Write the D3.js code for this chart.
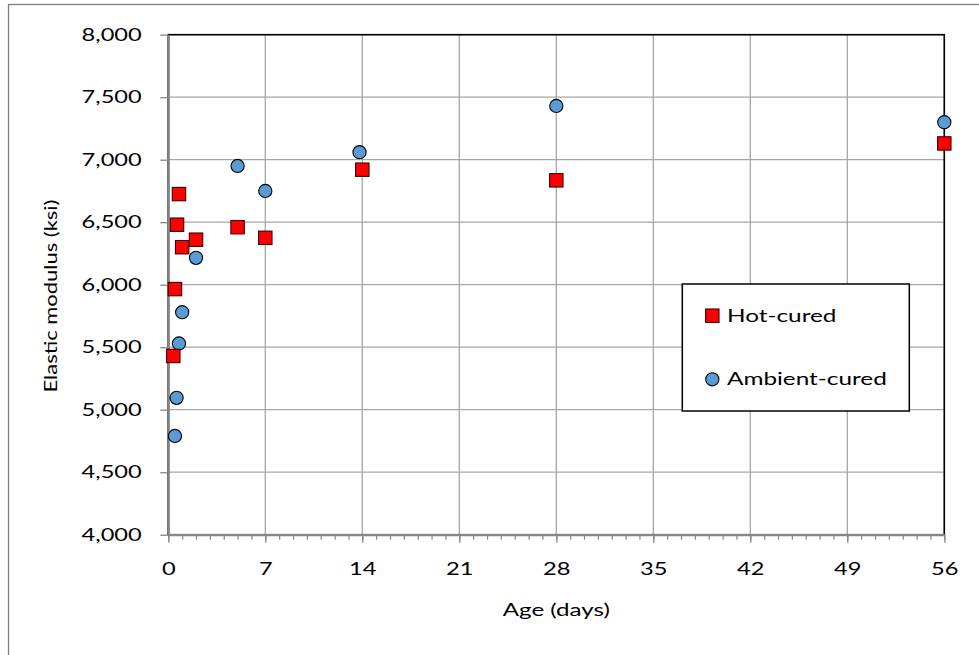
<!DOCTYPE html>
<html>
<head>
<meta charset="utf-8">
<script src="https://cdn.jsdelivr.net/npm/d3@7"></script>
<style>
body { margin: 0; background: #fff; }
text { font-family: Lato, "Open Sans", sans-serif; fill: #000; }
</style>
</head>
<body>
<div id="chart"></div>
<script>
// data
var hotAge = [0.36, 0.48, 0.63, 0.77, 1, 2, 5, 7, 14, 28, 56];
var hotModulus = [5430, 5965, 6480, 6725, 6300, 6360, 6460, 6375, 6920, 6835, 7130];
var ambientAge = [0.48, 0.6, 0.77, 1, 2, 5, 7, 13.8, 28, 56];
var ambientModulus = [4790, 5095, 5530, 5780, 6215, 6950, 6750, 7060, 7430, 7300];
var xTicks = [0, 7, 14, 21, 28, 35, 42, 49, 56];
var yTicks = [4000, 4500, 5000, 5500, 6000, 6500, 7000, 7500, 8000];
var seriesNames = ["Hot-cured", "Ambient-cured"];

(function(){
    var width = 979;
    var height = 655;
    var left = 168.3, top = 34.7, right = 944.3, bottom = 534.7;
    var sx = 1.35; // text in the reference is drawn wide
    var fontSize = 17.5;

    var svg = d3.select("#chart")
        .append("svg")
        .attr("width", width)
        .attr("height", height);

    svg.append("rect")
        .attr("x", 8.5).attr("y", 4.5)
        .attr("width", width + 10).attr("height", height + 10)
        .attr("fill", "#fff")
        .attr("stroke", "#7f7f7f")
        .attr("stroke-width", 1.3);

    var x = d3.scaleLinear().domain([0, 56]).range([left, right]);
    var y = d3.scaleLinear().domain([4000, 8000]).range([bottom, top]);

    function stretch(sel) {
        sel.each(function(){
            var t = d3.select(this);
            var tx = +t.attr("x") || 0;
            t.attr("x", tx / sx).attr("transform", "scale(" + sx + ",1)");
        });
    }

    // gridlines
    svg.append("g").selectAll("line.hgrid")
        .data(yTicks)
        .enter().append("line")
        .attr("x1", left).attr("x2", right)
        .attr("y1", function(d){ return y(d); })
        .attr("y2", function(d){ return y(d); })
        .attr("stroke", "#a6a6a6")
        .attr("stroke-width", 1.3);
    svg.append("g").selectAll("line.vgrid")
        .data(xTicks)
        .enter().append("line")
        .attr("x1", function(d){ return x(d); })
        .attr("x2", function(d){ return x(d); })
        .attr("y1", top).attr("y2", bottom)
        .attr("stroke", "#a6a6a6")
        .attr("stroke-width", 1.3);

    // plot area border (top / right black)
    svg.append("rect")
        .attr("x", left).attr("y", top)
        .attr("width", right - left).attr("height", bottom - top)
        .attr("fill", "none")
        .attr("stroke", "#000")
        .attr("stroke-width", 1.6);

    // minor ticks on x
    var minor = svg.append("g")
        .attr("transform", "translate(0," + bottom + ")")
        .call(d3.axisBottom(x).ticks(56).tickSize(5).tickFormat(""));
    minor.select(".domain").remove();
    minor.selectAll("line").attr("stroke", "#868686").attr("stroke-width", 1.2);

    var xAxis = svg.append("g")
        .attr("transform", "translate(0," + bottom + ")")
        .call(d3.axisBottom(x).tickValues(xTicks).tickSize(8).tickPadding(20).tickSizeOuter(0));
    xAxis.select(".domain").attr("stroke", "#868686").attr("stroke-width", 2.2);
    xAxis.selectAll("line").attr("stroke", "#868686").attr("stroke-width", 1.3);
    xAxis.selectAll("text").attr("font-size", fontSize).style("font-family", "Lato").call(stretch);

    var yAxis = svg.append("g")
        .attr("transform", "translate(" + left + ",0)")
        .call(d3.axisLeft(y).tickValues(yTicks).tickSize(8).tickPadding(18.6).tickSizeOuter(0)
            .tickFormat(d3.format(",")));
    yAxis.select(".domain").attr("stroke", "#868686").attr("stroke-width", 2.2);
    yAxis.selectAll("line").attr("stroke", "#868686").attr("stroke-width", 1.3);
    yAxis.selectAll("text").attr("font-size", fontSize).style("font-family", "Lato").call(stretch);

    // axis titles
    svg.append("text")
        .attr("x", (left + right) / 2 / 1.38)
        .attr("y", 616)
        .attr("transform", "scale(1.38,1)")
        .attr("text-anchor", "middle")
        .attr("font-size", fontSize)
        .text("Age (days)");
    svg.append("text")
        .attr("transform", "translate(57,296) rotate(-90) scale(1.22,1)")
        .attr("text-anchor", "middle")
        .attr("font-size", 18)
        .text("Elastic modulus (ksi)");

    var hot = hotAge.map(function(d, i){ return { age: d, value: hotModulus[i] }; });
    var ambient = ambientAge.map(function(d, i){ return { age: d, value: ambientModulus[i] }; });

    svg.append("g").selectAll("circle")
        .data(ambient)
        .enter().append("circle")
        .attr("cx", function(d){ return x(d.age); })
        .attr("cy", function(d){ return y(d.value); })
        .attr("r", 6.6)
        .attr("fill", "#5b9bd5")
        .attr("stroke", "#000")
        .attr("stroke-width", 1.1);

    svg.append("g").selectAll("rect")
        .data(hot)
        .enter().append("rect")
        .attr("x", function(d){ return x(d.age) - 6.7; })
        .attr("y", function(d){ return y(d.value) - 6.7; })
        .attr("width", 13.4)
        .attr("height", 13.4)
        .attr("fill", "#ff0000")
        .attr("stroke", "#3a0000")
        .attr("stroke-width", 1.1);

    // legend
    var legend = svg.append("g");
    legend.append("rect")
        .attr("x", 682.3).attr("y", 284)
        .attr("width", 227).attr("height", 127)
        .attr("fill", "#fff")
        .attr("stroke", "#000")
        .attr("stroke-width", 1.5);
    legend.append("rect")
        .attr("x", 705.6).attr("y", 309)
        .attr("width", 13.4).attr("height", 13.4)
        .attr("fill", "#ff0000")
        .attr("stroke", "#3a0000")
        .attr("stroke-width", 1.1);
    legend.append("circle")
        .attr("cx", 712.3).attr("cy", 379.3)
        .attr("r", 6.6)
        .attr("fill", "#5b9bd5")
        .attr("stroke", "#000")
        .attr("stroke-width", 1.1);
    legend.selectAll("text")
        .data(seriesNames)
        .enter().append("text")
        .attr("x", 727 / 1.39)
        .attr("y", function(d, i){ return i === 0 ? 322 : 385.5; })
        .attr("transform", "scale(1.39,1)")
        .attr("font-size", fontSize)
        .text(function(d){ return d; });
})();
</script>
</body>
</html>
